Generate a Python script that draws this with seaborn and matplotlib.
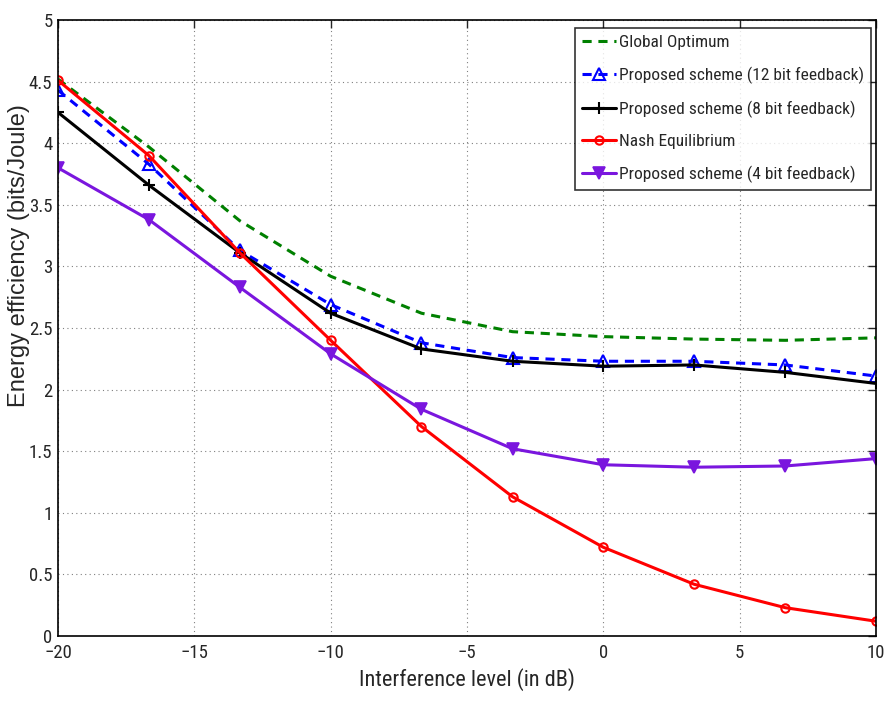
import numpy as np
import pandas as pd
import seaborn as sns
import matplotlib.pyplot as plt
from matplotlib import font_manager as fm

# interference level (dB)
interference = [-20, -16.67, -13.33, -10, -6.67, -3.33, 0, 3.33, 6.67, 10]

global_opt = [4.52, 3.97, 3.37, 2.92, 2.62, 2.47, 2.43, 2.41, 2.40, 2.42]
scheme_12bit = [4.43, 3.83, 3.13, 2.69, 2.38, 2.26, 2.23, 2.23, 2.20, 2.11]
scheme_8bit = [4.25, 3.66, 3.11, 2.62, 2.33, 2.23, 2.19, 2.20, 2.14, 2.05]
nash_eq = [4.51, 3.90, 3.11, 2.40, 1.70, 1.13, 0.72, 0.42, 0.23, 0.12]
scheme_4bit = [3.80, 3.38, 2.83, 2.29, 1.84, 1.52, 1.39, 1.37, 1.38, 1.44]

labels = ["Global Optimum", "Proposed scheme (12 bit feedback)",
          "Proposed scheme (8 bit feedback)", "Nash Equilibrium",
          "Proposed scheme (4 bit feedback)"]

sns.set_style("white")
plt.rcParams["font.family"] = ["Liberation Sans", "DejaVu Sans"]

# look for a narrow face, the original uses a condensed Helvetica
fonts = fm.fontManager.ttflist
names = {f.name for f in fonts}
narrow = None
for cand in ["Liberation Sans Narrow", "Arial Narrow", "Roboto Condensed",
             "Open Sans Condensed", "Noto Sans Condensed", "DejaVu Sans Condensed"]:
    if cand in names:
        narrow = fm.FontProperties(family=cand)
        break
if narrow is None:
    for f in fonts:
        if str(f.stretch) in ("condensed", "semi-condensed", "extra-condensed") \
                and f.style == "normal" and f.weight in (400, "normal", "regular"):
            narrow = fm.FontProperties(fname=f.fname)
            break
if narrow is None:
    narrow = fm.FontProperties(family="Liberation Sans")
    scale = 0.8
else:
    scale = 1.0


def nf(size):
    p = narrow.copy()
    p.set_size(size * scale)
    return p


fig = plt.figure(figsize=(8.84, 7.01), dpi=100)
ax = fig.add_axes([0.0656, 0.0927, 0.9254, 0.8788])

styles = [
    dict(color="#008000", linestyle=(0, (3, 2.2)), marker=None),
    dict(color="#0000ff", linestyle=(0, (3, 2.2)), marker="^", markersize=8,
         markerfacecolor="none", markeredgecolor="#0000ff", markeredgewidth=1.5),
    dict(color="black", linestyle="-", marker="+", markersize=9,
         markeredgecolor="black", markeredgewidth=1.5),
    dict(color="#ff0000", linestyle="-", marker="o", markersize=6,
         markerfacecolor="none", markeredgecolor="#ff0000", markeredgewidth=1.5),
    dict(color="#7a16de", linestyle="-", marker="v", markersize=8,
         markeredgecolor="#7a16de", markeredgewidth=1.2),
]
series = [global_opt, scheme_12bit, scheme_8bit, nash_eq, scheme_4bit]

for vals, lab, st in zip(series, labels, styles):
    df = pd.DataFrame({"x": interference, "y": vals})
    sns.lineplot(data=df, x="x", y="y", ax=ax, label=lab, linewidth=2.2, **st)

ax.set_xlim(-20, 10)
ax.set_ylim(0, 5)
ax.set_xticks(np.arange(-20, 11, 5))
ax.set_yticks(np.arange(0, 5.01, 0.5))
ax.set_xticklabels(["\u221220", "\u221215", "\u221210", "\u22125", "0", "5", "10"])
ax.set_yticklabels(["0", "0.5", "1", "1.5", "2", "2.5", "3", "3.5", "4", "4.5", "5"])
for t in ax.get_xticklabels() + ax.get_yticklabels():
    t.set_fontproperties(nf(13.5))
ax.tick_params(axis="x", pad=6)
ax.tick_params(direction="in", length=6, top=True, right=True, width=1)
ax.tick_params(axis="y", pad=4)
ax.grid(True, linestyle=(0, (1, 3)), color="#808080", linewidth=0.8)
for sp in ax.spines.values():
    sp.set_color("black")
    sp.set_linewidth(1.2)

ax.set_xlabel("Interference level (in dB)", fontproperties=nf(16), labelpad=4)
ax.set_ylabel("Energy efficiency (bits/Joule)", fontsize=17)
ax.yaxis.set_label_coords(-0.034, 0.617)

leg = ax.legend(loc="upper right", bbox_to_anchor=(0.994, 0.987), prop=nf(12.5),
                frameon=True, fancybox=False, handlelength=2.0, handletextpad=0.15,
                borderpad=0.4, labelspacing=0.95, borderaxespad=0)
leg.get_frame().set_edgecolor("black")
leg.get_frame().set_linewidth(1.2)

fig.savefig("out.png", dpi=100)
